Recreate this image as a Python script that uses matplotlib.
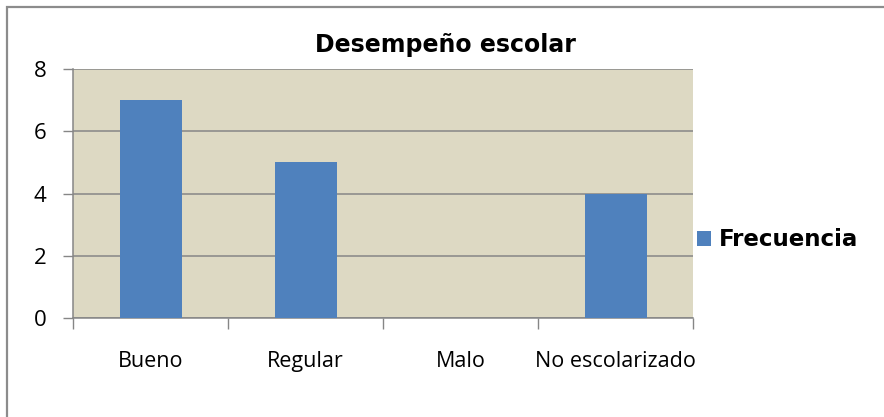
import matplotlib
matplotlib.use("Agg")
import matplotlib.pyplot as plt
from matplotlib.patches import Rectangle
import numpy as np

categories = ["Bueno", "Regular", "Malo", "No escolarizado"]
frecuencia = [7, 5, 0, 4]
y_ticks = [0, 2, 4, 6, 8]
title = "Desempeño escolar"
series_name = "Frecuencia"

bar_color = "#4F81BD"
plot_bg = "#DDD9C3"
grid_color = "#868686"

W, H = 884, 417
fig = plt.figure(figsize=(W / 100, H / 100), dpi=100)
fig.patch.set_facecolor("white")

# outer chart frame
fig.patches.append(Rectangle((7 / W, -0.1), 1.2, 1 - 7 / H + 0.1,
                             transform=fig.transFigure, fill=False,
                             edgecolor="#8C8C8C", linewidth=1.6))

ax = fig.add_axes([73 / W, 1 - 318 / H, 620 / W, (318 - 69) / H])
ax.set_facecolor(plot_bg)

x = np.arange(len(categories))
ax.bar(x, frecuencia, width=0.4, color=bar_color, label=series_name, zorder=3)

ax.set_xlim(-0.5, len(categories) - 0.5)
ax.set_ylim(0, 8)
ax.set_yticks(y_ticks)
ax.set_yticklabels([str(v) for v in y_ticks], fontsize=16, family="Open Sans")
ax.yaxis.grid(True, color=grid_color, linewidth=1.1, zorder=1)
ax.set_axisbelow(True)

# category boundaries carry the tick marks, labels sit at bar centres
ax.set_xticks(np.arange(len(categories) + 1) - 0.5)
ax.set_xticklabels([])
ax.set_xticks(x, minor=True)
ax.set_xticklabels(categories, minor=True, fontsize=15.5, family="Open Sans")
ax.tick_params(axis="x", which="major", length=8, width=1, color=grid_color, direction="out")
ax.tick_params(axis="x", which="minor", length=0, pad=24)
ax.tick_params(axis="y", length=7, width=1, color=grid_color, direction="out", pad=12)

for side in ("top", "right"):
    ax.spines[side].set_visible(False)
for side in ("left", "bottom"):
    ax.spines[side].set_color(grid_color)
    ax.spines[side].set_linewidth(1.1)

fig.text(445 / W, 1 - 45 / H, title, ha="center", va="center",
         fontsize=17, fontweight="bold", family="DejaVu Sans")

ax.legend(loc="center left", bbox_to_anchor=(697 / W, 1 - 240 / H),
          bbox_transform=fig.transFigure, frameon=False, borderpad=0,
          borderaxespad=0, handlelength=0.6, handleheight=0.6,
          handletextpad=0.35,
          prop={"family": "DejaVu Sans", "weight": "bold", "size": 16.5})

fig.savefig("out.png", dpi=100, facecolor="white")
